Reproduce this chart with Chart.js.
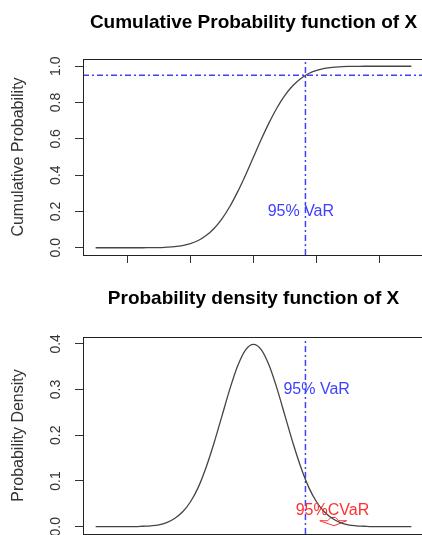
<!DOCTYPE html>
<html>
<head>
<meta charset="utf-8">
<script src="https://cdn.jsdelivr.net/npm/chart.js@4.4.0/dist/chart.umd.min.js"></script>
<style>
  html, body { margin: 0; padding: 0; background: #fff; overflow: hidden; }
  .box { position: absolute; left: 0; width: 440px; }
  #top { top: 0; height: 275px; }
  #bottom { top: 275px; height: 279px; }
</style>
</head>
<body>
<div class="box" id="top"><canvas id="cdf"></canvas></div>
<div class="box" id="bottom"><canvas id="pdf"></canvas></div>
<script>
// x 값 (-5 ~ 5)
const xs = [-5, -4.75, -4.5, -4.25, -4, -3.75, -3.5, -3.25, -3, -2.75, -2.5, -2.25, -2, -1.75, -1.5, -1.25, -1, -0.75, -0.5, -0.25,
  0, 0.25, 0.5, 0.75, 1, 1.25, 1.5, 1.75, 2, 2.25, 2.5, 2.75, 3, 3.25, 3.5, 3.75, 4, 4.25, 4.5, 4.75, 5];
// 누적확률
const cdf = [0, 0, 0, 0, 0, 0, 0, 0.001, 0.001, 0.003, 0.006, 0.012, 0.023, 0.04, 0.067, 0.106, 0.159, 0.227, 0.309, 0.401,
  0.5, 0.599, 0.691, 0.773, 0.841, 0.894, 0.933, 0.96, 0.977, 0.988, 0.994, 0.997, 0.999, 0.999, 1, 1, 1, 1, 1, 1, 1];
// 확률밀도
const pdf = [0, 0, 0, 0, 0, 0, 0.001, 0.002, 0.004, 0.009, 0.018, 0.032, 0.054, 0.086, 0.13, 0.183, 0.242, 0.301, 0.352, 0.387,
  0.399, 0.387, 0.352, 0.301, 0.242, 0.183, 0.13, 0.086, 0.054, 0.032, 0.018, 0.009, 0.004, 0.002, 0.001, 0, 0, 0, 0, 0, 0];
const xTicks = [-4, -2, 0, 2, 4];
const cdfTicks = [0, 0.2, 0.4, 0.6, 0.8, 1.0];
const pdfTicks = [0, 0.1, 0.2, 0.3, 0.4];
const varX = 1.645;
const varLevel = 0.95;
const cdfVarLabel = [1.5, 0.2];
const pdfVarLabel = [2.0, 0.3];
const cvarLabel = [2.5, 0.035];
const cvarArrowX = [2.1, 2.35, 2.45, 2.6, 2.7, 2.95, 2.55, 2.1];
const cvarArrowY = [0.013, 0.013, 0.02, 0.02, 0.013, 0.013, 0.002, 0.013];

const FONT = '"Liberation Sans", Arial, sans-serif';
const blue = "#4040ff";
const red = "#ff3030";

// 글자 + 테두리
const notes = {
  id: "notes",
  afterDatasetsDraw(chart, args, opts) {
    const { ctx, chartArea: a } = chart;
    const x = chart.scales.x;
    const y = chart.scales.y;
    ctx.save();
    ctx.font = "16px " + FONT;
    ctx.textAlign = "center";
    ctx.textBaseline = "middle";
    (opts.items || []).forEach((t) => {
      ctx.fillStyle = t.color;
      ctx.fillText(t.text, x.getPixelForValue(t.x), y.getPixelForValue(t.y));
    });
    ctx.strokeStyle = "#222";
    ctx.lineWidth = 1;
    ctx.strokeRect(Math.round(a.left) + 0.5, Math.round(a.top) + 0.5, a.right - a.left, a.bottom - a.top);
    ctx.restore();
  },
};

function pts(xv, yv) {
  return xv.map((v, i) => ({ x: v, y: yv[i] }));
}

function drawChart(id, title, titlePad, yTitle, curve, yMin, yMax, yTicks, showXTicks, extra, items) {
  const data = {
    datasets: [
      {
        data: pts(xs, curve),
        borderColor: "#444",
        borderWidth: 1.3,
        pointRadius: 0,
        cubicInterpolationMode: "monotone",
      },
    ].concat(extra),
  };
  const config = {
    type: "line",
    data: data,
    plugins: [notes],
    options: {
      animation: false,
      responsive: true,
      maintainAspectRatio: false,
      layout: { padding: { left: 0, top: 0, right: 16, bottom: 0 } },
      plugins: {
        legend: { display: false },
        tooltip: { enabled: false },
        title: {
          display: true,
          text: title,
          fullSize: false,
          color: "#000",
          font: { family: FONT, size: 19, weight: "bold" },
          padding: titlePad,
        },
        notes: { items: items },
      },
      scales: {
        x: {
          type: "linear",
          min: -5.4,
          max: 5.4,
          bounds: "data",
          afterBuildTicks: (s) => {
            s.ticks = xTicks.map((v) => ({ value: v }));
          },
          afterFit: (s) => {
            s.height = 20;
          },
          border: { display: false },
          grid: { display: showXTicks, drawOnChartArea: false, drawTicks: true, tickLength: 8, color: "#333" },
          ticks: { display: false },
        },
        y: {
          type: "linear",
          min: yMin,
          max: yMax,
          bounds: "data",
          afterBuildTicks: (s) => {
            s.ticks = yTicks.map((v) => ({ value: v }));
          },
          afterFit: (s) => {
            s.width = 83;
          },
          border: { display: false },
          grid: { drawOnChartArea: false, drawTicks: true, tickLength: 8, color: "#333" },
          ticks: {
            minRotation: 90,
            maxRotation: 90,
            crossAlign: "center",
            padding: 9,
            color: "#333",
            font: { family: FONT, size: 14 },
            callback: (v) => Number(v).toFixed(1),
          },
          title: {
            display: true,
            text: yTitle,
            color: "#333",
            font: { family: FONT, size: 16 },
            padding: { top: 9, bottom: 0 },
          },
        },
      },
    },
  };
  return new Chart(document.getElementById(id), config);
}

const dash = { borderColor: blue, borderWidth: 1.5, borderDash: [6, 3, 2, 3], pointRadius: 0, tension: 0 };

drawChart(
  "cdf",
  "Cumulative Probability function of X",
  { top: 11, bottom: 25.2 },
  "Cumulative Probability",
  cdf,
  -0.04,
  1.04,
  cdfTicks,
  true,
  [
    Object.assign({ data: pts([-5.4, 5.4], [varLevel, varLevel]) }, dash),
    Object.assign({ data: pts([varX, varX], [-0.04, 1.04]) }, dash),
  ],
  [{ text: "95% VaR", x: cdfVarLabel[0], y: cdfVarLabel[1], color: blue }]
);

drawChart(
  "pdf",
  "Probability density function of X",
  { top: 12.7, bottom: 26.5 },
  "Probability Density",
  pdf,
  -0.016,
  0.415,
  pdfTicks,
  false,
  [
    Object.assign({ data: pts([varX, varX], [-0.016, 0.415]) }, dash),
    { data: pts(cvarArrowX, cvarArrowY), borderColor: red, borderWidth: 1, pointRadius: 0, tension: 0 },
  ],
  [
    { text: "95% VaR", x: pdfVarLabel[0], y: pdfVarLabel[1], color: blue },
    { text: "95%CVaR", x: cvarLabel[0], y: cvarLabel[1], color: red },
  ]
);
</script>
</body>
</html>
